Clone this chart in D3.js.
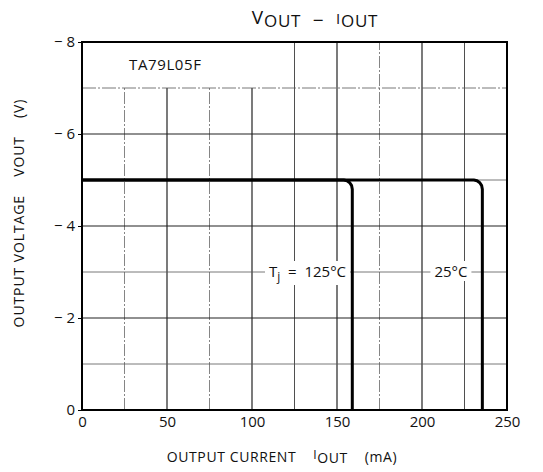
<!DOCTYPE html>
<html>
<head>
<meta charset="utf-8">
<script src="https://cdn.jsdelivr.net/npm/d3@7"></script>
<style>
  body { margin: 0; background: #fff; }
  text { font-family: 'Open Sans', 'DejaVu Sans', sans-serif; fill: #111; }
</style>
</head>
<body>
<div id="chart"></div>
<script>
// x ticks (mA) and y ticks (V)
const xTicks = [0, 50, 100, 150, 200, 250];
const yTicks = [0, -2, -4, -6, -8];
const xGrid = [25, 50, 75, 100, 125, 150, 175, 200, 225];
const yGrid = [-1, -2, -3, -4, -5, -6, -7];
const xGridDashed = [25, 75, 175];

// VOUT vs IOUT for each junction temperature
const current125 = [0, 154, 155.9, 157.5, 158.6, 159, 159];
const voltage125 = [-5, -5, -4.985, -4.941, -4.877, -4.8, 0];
const current25 = [0, 230.5, 232.4, 234, 235.1, 235.5, 235.5];
const voltage25 = [-5, -5, -4.985, -4.941, -4.877, -4.8, 0];

const margin = {top: 42, right: 36, bottom: 62, left: 82};
const width = 543 - margin.left - margin.right;
const height = 472 - margin.top - margin.bottom;

const svg = d3.select('#chart')
  .append('svg')
  .attr('width', 543)
  .attr('height', 472);

const g = svg.append('g')
  .attr('transform', 'translate(' + margin.left + ',' + margin.top + ')');

const x = d3.scaleLinear().domain([0, 250]).range([0, width]);
const y = d3.scaleLinear().domain([0, -8]).range([height, 0]);

// grid; the label box at top-left has no vertical lines
g.selectAll('.vgrid')
  .data(xGrid)
  .enter()
  .append('line')
  .attr('x1', d => x(d))
  .attr('x2', d => x(d))
  .attr('y1', height)
  .attr('y2', d => d <= 100 ? y(-7) : 0)
  .attr('stroke', d => xGridDashed.includes(d) ? '#666' : '#222')
  .attr('stroke-width', d => d % 50 === 0 ? 1.2 : 0.8)
  .attr('stroke-dasharray', d => xGridDashed.includes(d) ? '12,2,2,2' : null);

g.selectAll('.hgrid')
  .data(yGrid)
  .enter()
  .append('line')
  .attr('x1', 0)
  .attr('x2', width)
  .attr('y1', d => y(d))
  .attr('y2', d => y(d))
  .attr('stroke', d => d % 2 === 0 ? '#222' : '#555')
  .attr('stroke-width', d => d % 2 === 0 ? 1.2 : 0.8)
  .attr('stroke-dasharray', d => d === -7 ? '14,2,2,2' : null);

// labels inside the plot, with white backing over the grid
function backing(group, textSel) {
  const b = textSel.node().getBBox();
  group.insert('rect', 'text')
    .attr('x', b.x - 4).attr('y', y(-3) - 3)
    .attr('width', b.width + 8).attr('height', 6)
    .attr('fill', '#fff');
  group.insert('rect', 'text')
    .attr('x', b.x - 1).attr('y', b.y)
    .attr('width', b.width + 2).attr('height', b.height)
    .attr('fill', '#fff');
}

const tLabel = g.append('g');
const l1 = tLabel.append('text')
  .attr('x', x(110))
  .attr('y', y(-3) + 5)
  .attr('font-size', 15)
  .attr('xml:space', 'preserve');
l1.append('tspan').text('T');
l1.append('tspan').attr('font-size', 12).attr('dy', 4).text('j');
l1.append('tspan').attr('dy', -4).text('  =  125°C');
backing(tLabel, l1);

const l2g = g.append('g');
const l2 = l2g.append('text')
  .attr('x', x(217))
  .attr('y', y(-3) + 5)
  .attr('text-anchor', 'middle')
  .attr('font-size', 15)
  .text('25°C');
backing(l2g, l2);

g.append('text')
  .attr('x', x(49))
  .attr('y', y(-7.5) + 5)
  .attr('text-anchor', 'middle')
  .attr('font-size', 15)
  .attr('letter-spacing', 0.6)
  .text('TA79L05F');

// curves
const line = d3.line()
  .x(d => x(d[0]))
  .y(d => y(d[1]));

const series = [
  d3.zip(current125, voltage125),
  d3.zip(current25, voltage25)
];

g.selectAll('.curve')
  .data(series)
  .enter()
  .append('path')
  .attr('d', line)
  .attr('fill', 'none')
  .attr('stroke', '#000')
  .attr('stroke-width', 3)
  .attr('stroke-linejoin', 'round');

// frame
g.append('rect')
  .attr('width', width)
  .attr('height', height)
  .attr('fill', 'none')
  .attr('stroke', '#000')
  .attr('stroke-width', 2);

// axes
const fmtY = d => d === 0 ? '0' : '\u2212 ' + Math.abs(d);

const yAxis = g.append('g')
  .call(d3.axisLeft(y).tickValues(yTicks).tickFormat(fmtY).tickSize(4).tickPadding(3));
yAxis.select('.domain').remove();
yAxis.selectAll('text').attr('font-size', 15).style('font-family', "'Open Sans', sans-serif").attr('fill', '#111');

const xAxis = g.append('g')
  .attr('transform', 'translate(0,' + height + ')')
  .call(d3.axisBottom(x).tickValues(xTicks).tickSize(0).tickPadding(6));
xAxis.select('.domain').remove();
xAxis.selectAll('text').attr('font-size', 15).style('font-family', "'Open Sans', sans-serif").attr('fill', '#111');

// title
const title = svg.append('text')
  .attr('x', 315)
  .attr('y', 27)
  .attr('text-anchor', 'middle')
  .attr('font-size', 19)
  .attr('letter-spacing', 0.8)
  .attr('xml:space', 'preserve');
title.append('tspan').attr('dy', -3).text('V');
title.append('tspan').attr('dy', 3).attr('font-size', 17).text('OUT');
title.append('tspan').text('  \u2212  ');
title.append('tspan').attr('dy', -3).attr('font-size', 15).text('I');
title.append('tspan').attr('dy', 3).attr('font-size', 17).text('OUT');

// x axis title
const xt = svg.append('text')
  .attr('x', 282)
  .attr('y', 462)
  .attr('text-anchor', 'middle')
  .attr('font-size', 14)
  .attr('letter-spacing', 0.6)
  .attr('xml:space', 'preserve');
xt.append('tspan').text('OUTPUT CURRENT    ');
xt.append('tspan').attr('font-size', 12).attr('dy', -3).text('I');
xt.append('tspan').attr('dy', 4).text('OUT');
xt.append('tspan').attr('dy', -1).text('    (mA)');

// y axis title
const yt = svg.append('text')
  .attr('transform', 'translate(24,' + 213 + ') rotate(-90)')
  .attr('text-anchor', 'middle')
  .attr('font-size', 14)
  .attr('letter-spacing', 0.9)
  .attr('xml:space', 'preserve');
yt.append('tspan').text('OUTPUT VOLTAGE    VOUT    (V)');
</script>
</body>
</html>
